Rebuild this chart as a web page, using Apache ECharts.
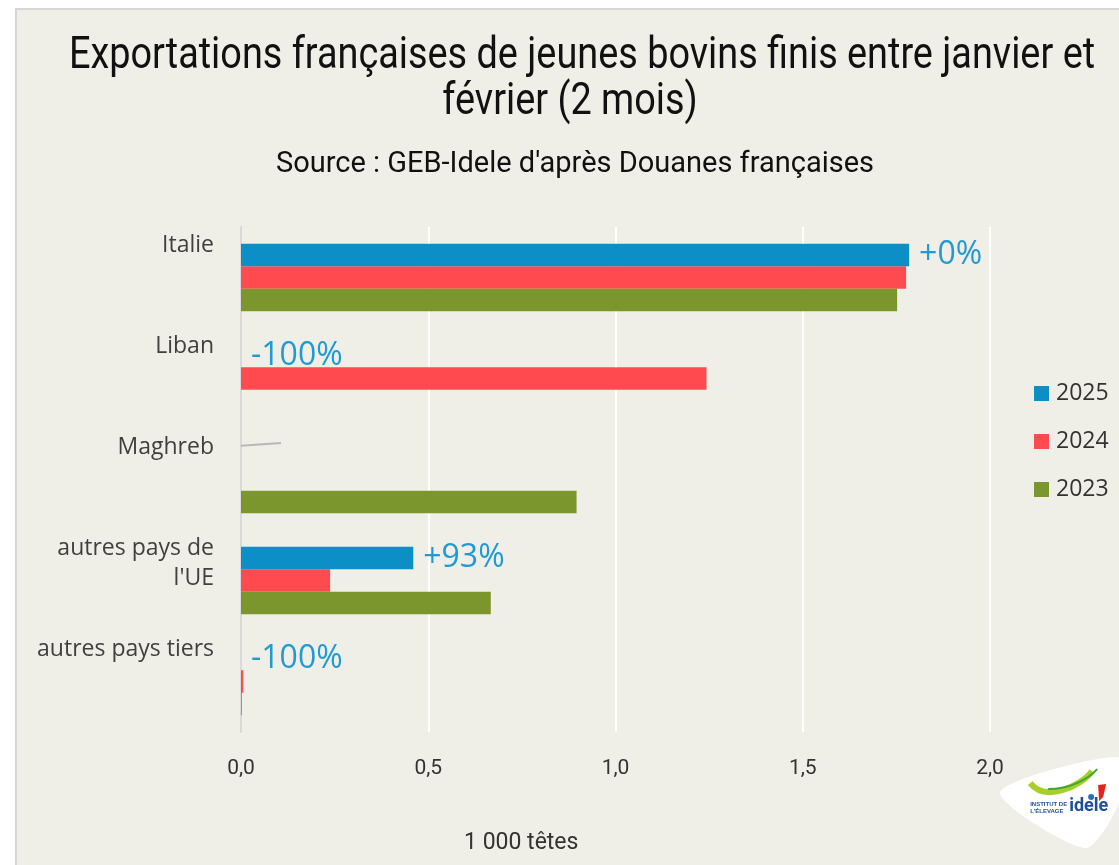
<!DOCTYPE html>
<html>
<head>
<meta charset="utf-8">
<script src="https://cdn.jsdelivr.net/npm/echarts@6/dist/echarts.min.js"></script>
<style>
  html, body { margin: 0; padding: 0; background: #ffffff; }
  #frame {
    position: absolute; left: 15px; top: 8px; right: 0; bottom: 0;
    background: #efefe7;
    border-left: 2px solid #d6d6d6; border-top: 2px solid #d6d6d6;
  }
  #chart { position: absolute; left: 0; top: 0; width: 1119px; height: 865px; }
</style>
</head>
<body>
<div id="frame"></div>
<div id="chart"></div>
<script>
// Exports of finished young cattle, January–February, in thousand head
const categories = ['Italie', 'Liban', 'Maghreb', "autres pays de\nl'UE", 'autres pays tiers'];
const years = ['2025', '2024', '2023'];
const values2025 = [1.784, 0, 0, 0.460, 0];
const values2024 = [1.776, 1.243, 0, 0.238, 0.006];
const values2023 = [1.752, 0, 0.896, 0.667, 0.002];
const xTicks = [0, 0.5, 1.0, 1.5, 2.0];
const titleLines = ['Exportations françaises de jeunes bovins finis entre janvier et', 'février (2 mois)'];
const subtitle = "Source : GEB-Idele d'après Douanes françaises";
const unitLabel = '1 000 têtes';

const colors = ['#0b8fc6', '#ff4b4f', '#7a962d'];
const labelFont = '"Open Sans", Lato, sans-serif';
const headFont = 'Roboto, "Liberation Sans", sans-serif';

// Year-on-year change 2025 vs 2024, shown next to the 2025 bars
function changeLabel(i) {
  const prev = values2024[i];
  if (!prev) return ' ';
  const pct = Math.round((values2025[i] - prev) / prev * 100);
  return (pct >= 0 ? '+' : '-') + Math.abs(pct) + '%';
}

// Only the empty Maghreb label keeps its leader line
const data2025 = values2025.map((v, i) =>
  values2024[i] ? v : (i === 2 ? { value: v, labelLine: { show: true } } : v));

const chart = echarts.init(document.getElementById('chart'), null, { renderer: 'canvas' });

const option = {
  backgroundColor: 'transparent',
  animation: false,
  title: [
    {
      text: unitLabel,
      left: 459, top: 827,
      textStyle: { fontFamily: headFont, fontSize: 23, fontWeight: 'normal', color: '#333' }
    }
  ],
  legend: {
    data: years,
    orient: 'vertical',
    left: 1029, top: 377,
    itemWidth: 15, itemHeight: 15,
    itemGap: 25,
    icon: 'rect',
    textStyle: { fontFamily: labelFont, fontSize: 23, color: '#333', padding: [0, 0, 0, 2] }
  },
  grid: { left: 241, right: 129, top: 227, bottom: 133, containLabel: false },
  xAxis: {
    type: 'value',
    min: xTicks[0], max: xTicks[xTicks.length - 1], interval: 0.5,
    axisLine: { show: false },
    axisTick: { show: false },
    splitLine: { show: true, lineStyle: { color: '#ffffff', width: 2 } },
    axisLabel: {
      margin: 26,
      fontFamily: headFont, fontSize: 21, color: '#333',
      formatter: v => v.toFixed(1).replace('.', ',')
    }
  },
  yAxis: {
    type: 'category',
    data: categories,
    inverse: true,
    axisLine: { show: true, lineStyle: { color: '#d9d9d9', width: 2 } },
    axisTick: { show: false },
    splitLine: { show: false },
    axisLabel: {
      interval: 0,
      margin: 27,
      fontFamily: labelFont, fontSize: 23, color: '#404040',
      lineHeight: 30,
      align: 'right',
      verticalAlign: 'top',
      padding: [-47, 0, 0, 0]
    }
  },
  series: [
    {
      name: years[0], type: 'bar', data: data2025,
      itemStyle: { color: colors[0] },
      barGap: '0%', barCategoryGap: '33%',
      label: {
        show: true, position: 'right', distance: 10,
        fontFamily: labelFont, fontSize: 32, color: '#1f9ad3',
        formatter: p => changeLabel(p.dataIndex)
      },
      labelLine: { show: false, lineStyle: { color: '#b8b8b8', width: 2 } },
      labelLayout: p => (p.dataIndex === 2 ? { dx: 30, dy: -14 } : {}),
      z: 3
    },
    {
      name: years[1], type: 'bar', data: values2024,
      itemStyle: { color: colors[1] },
      barGap: '0%', barCategoryGap: '33%'
    },
    {
      name: years[2], type: 'bar', data: values2023,
      itemStyle: { color: colors[2] },
      barGap: '0%', barCategoryGap: '33%'
    }
  ],
  graphic: [
    // condensed two-line heading and source line
    {
      type: 'text', x: 582, y: 57, scaleX: 0.86,
      style: { text: titleLines[0], textAlign: 'center', textVerticalAlign: 'middle', font: '44px ' + headFont, fill: '#111' }
    },
    {
      type: 'text', x: 570, y: 103, scaleX: 0.86,
      style: { text: titleLines[1], textAlign: 'center', textVerticalAlign: 'middle', font: '44px ' + headFont, fill: '#111' }
    },
    {
      type: 'text', x: 575, y: 165,
      style: { text: subtitle, textAlign: 'center', textVerticalAlign: 'middle', font: '29px ' + headFont, fill: '#111' }
    },
    {
      // institute logo, bottom right
      type: 'group', left: 1000, top: 757,
      children: [
        { type: 'polygon', shape: { points: [[0, 35], [119, 0], [119, 45], [85, 91]], smooth: 0.25 }, style: { fill: '#ffffff' } },
        { type: 'bezierCurve', shape: { x1: 30, y1: 26, x2: 92, y2: 14, cpx1: 45, cpy1: 45, cpx2: 80, cpy2: 30 }, style: { stroke: '#a6cf2a', lineWidth: 6, fill: null } },
        { type: 'bezierCurve', shape: { x1: 48, y1: 32, x2: 97, y2: 12, cpx1: 70, cpy1: 32, cpx2: 88, cpy2: 22 }, style: { stroke: '#3fa535', lineWidth: 2, fill: null } },
        { type: 'polygon', shape: { points: [[98, 28], [106, 27], [103, 40], [99, 44]] }, style: { fill: '#e2231a' } },
        { type: 'circle', shape: { cx: 91, cy: 40, r: 3 }, style: { fill: '#2a6ebb' } },
        { type: 'text', style: { x: 30, y: 44, text: 'INSTITUT DE', font: 'bold 6px sans-serif', fill: '#1d4f9c' } },
        { type: 'text', style: { x: 30, y: 51, text: "L'ÉLEVAGE", font: 'bold 6px sans-serif', fill: '#1d4f9c' } },
        { type: 'text', style: { x: 69, y: 40, text: 'idele', font: 'bold 18px Roboto, sans-serif', fill: '#1d4f9c' } }
      ]
    }
  ]
};

chart.setOption(option);
</script>
</body>
</html>
